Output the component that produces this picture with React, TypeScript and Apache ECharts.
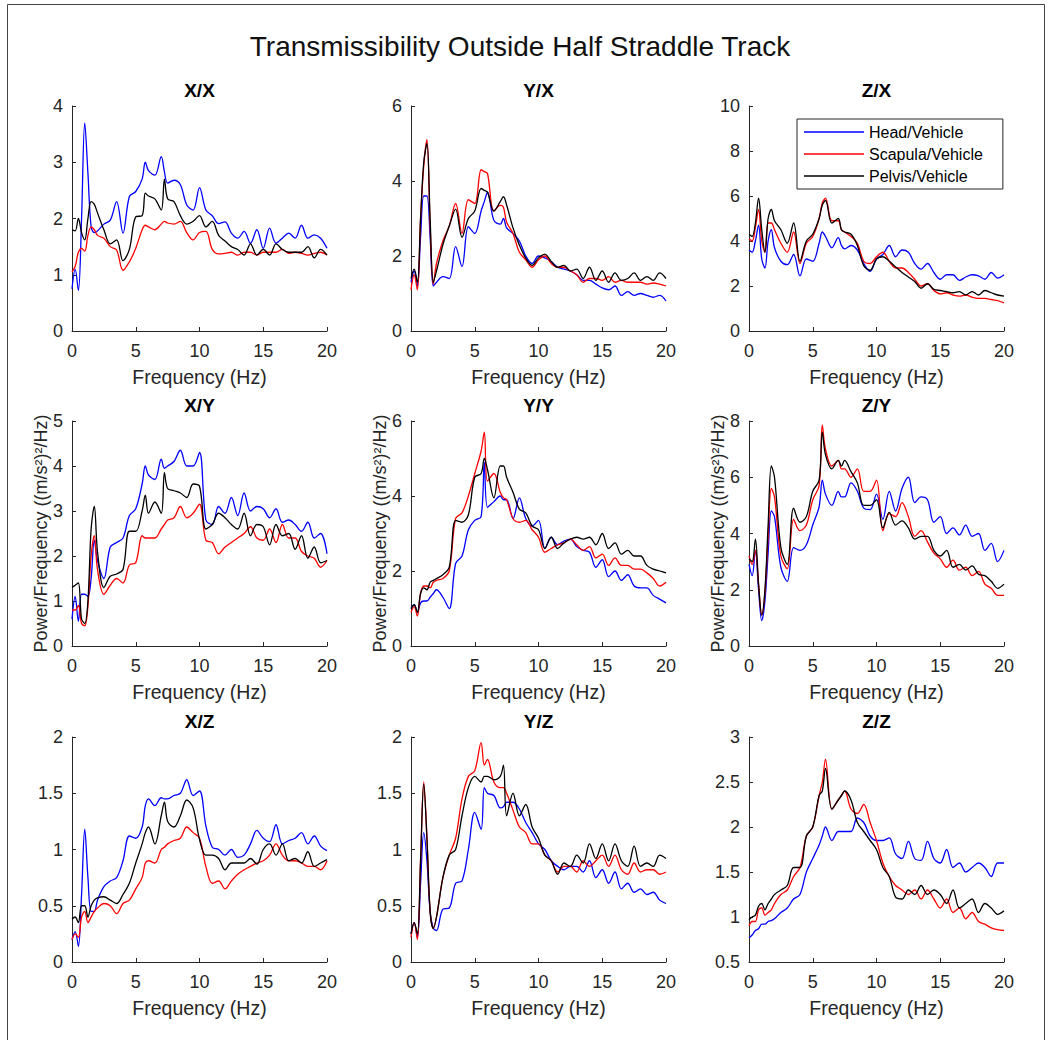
import React, { useEffect, useRef } from "react";
import * as echarts from "echarts";

const FREQ = [0, 0.25, 0.5, 0.75, 1, 1.25, 1.5, 1.75, 2, 2.5, 3, 3.5, 4, 4.5, 5, 5.5, 5.75, 6, 6.5, 7, 7.25, 7.5, 8, 8.5, 9, 9.5, 10, 10.5, 11, 11.5, 12, 12.5, 13, 13.5, 14, 14.5, 15, 15.5, 16, 16.5, 17, 17.5, 18, 18.5, 19, 19.5, 20];

const SERIES_NAMES = ["Head/Vehicle", "Scapula/Vehicle", "Pelvis/Vehicle"];
const SERIES_COLORS = ["#0000ff", "#ff0000", "#000000"];

const XX_HEAD = [0.75,1.1,0.72,2.0,3.7,2.8,1.85,1.75,1.78,1.9,1.97,2.3,1.74,2.39,2.48,2.7,3.0,2.85,2.77,3.1,2.83,2.63,2.68,2.6,2.24,2.15,2.55,2.15,2.05,1.91,1.94,1.74,1.65,1.77,1.56,1.8,1.47,1.83,1.56,1.65,1.74,1.65,1.88,1.65,1.71,1.65,1.47];
const XX_SCAP = [1.05,1.15,1.4,1.47,1.42,1.7,1.85,1.8,1.7,1.65,1.5,1.44,1.08,1.23,1.47,1.8,1.88,1.85,1.8,1.9,1.95,1.92,1.9,1.95,1.75,1.62,1.75,1.77,1.45,1.37,1.38,1.4,1.35,1.4,1.4,1.35,1.4,1.4,1.4,1.45,1.38,1.4,1.38,1.35,1.38,1.4,1.35];
const XX_PELV = [1.8,1.78,2.0,1.75,1.62,2.0,2.3,2.25,2.1,1.8,1.55,1.62,1.25,1.45,2.03,2.05,2.45,2.4,2.35,2.15,2.7,2.35,2.3,2.05,1.9,1.95,2.05,1.85,1.95,1.7,1.6,1.5,1.45,1.35,1.55,1.35,1.45,1.35,1.55,1.45,1.4,1.4,1.4,1.5,1.3,1.45,1.35];

const YX_HEAD = [1.3,1.6,1.2,2.5,3.6,3.6,2.5,1.2,1.3,1.45,1.4,2.25,1.72,2.78,2.6,3.2,3.45,3.7,2.95,2.85,3.0,2.75,2.6,2.4,2.0,1.8,2.0,1.95,1.85,1.7,1.65,1.6,1.5,1.35,1.35,1.25,1.15,1.1,1.2,0.95,1.05,0.95,1.0,0.95,0.9,0.95,0.8];
const YX_SCAP = [1.1,1.5,1.1,3.0,4.4,5.1,2.8,1.25,1.8,2.4,2.8,3.4,2.6,3.5,3.4,4.3,4.25,4.2,3.2,3.35,3.3,2.9,2.6,2.1,1.9,1.7,1.9,2.0,1.8,1.7,1.7,1.6,1.5,1.3,1.4,1.4,1.35,1.45,1.3,1.35,1.3,1.3,1.3,1.25,1.28,1.25,1.2];
const YX_PELV = [1.4,1.65,1.3,3.0,4.5,5.0,3.0,1.3,1.6,2.3,2.8,3.25,2.5,3.0,3.2,3.8,3.75,3.7,3.2,3.45,3.58,3.36,2.75,2.29,1.94,1.75,1.95,2.05,1.85,1.7,1.75,1.6,1.65,1.4,1.7,1.35,1.6,1.3,1.55,1.35,1.4,1.55,1.35,1.45,1.35,1.55,1.4];

const ZX_HEAD = [3.6,3.5,4.0,4.7,3.2,2.8,4.0,4.5,3.7,3.1,2.95,3.4,2.45,3.2,3.1,3.9,4.4,4.2,3.7,4.15,3.8,3.65,3.8,3.6,3.0,2.65,3.2,3.4,3.8,3.3,3.6,3.5,3.0,2.75,3.0,2.6,2.3,2.5,2.5,2.25,2.4,2.5,2.45,2.3,2.6,2.35,2.5];
const ZX_SCAP = [4.1,4.0,4.6,5.4,4.0,3.5,4.8,4.8,4.5,3.9,3.5,4.4,3.0,3.9,4.2,5.0,5.7,5.9,4.9,4.9,4.5,4.4,4.2,3.9,3.1,3.0,3.3,3.5,3.1,2.8,2.8,2.6,2.3,2.0,2.1,1.8,1.65,1.7,1.6,1.55,1.6,1.5,1.45,1.45,1.4,1.35,1.25];
const ZX_PELV = [4.3,4.2,4.8,5.9,4.5,3.5,5.0,5.4,4.9,4.5,3.9,4.8,3.1,4.0,4.3,5.0,5.6,5.8,4.8,5.0,4.5,4.4,4.3,3.8,2.9,2.7,3.2,3.3,3.1,2.85,2.6,2.4,2.2,1.9,2.1,1.85,1.8,1.75,1.7,1.75,1.6,1.75,1.6,1.8,1.7,1.6,1.55];

const XY_HEAD = [0.6,1.1,0.55,1.15,1.15,1.1,1.5,2.35,1.9,1.5,2.2,2.3,2.4,2.9,3.05,3.6,4.0,3.8,3.7,4.15,3.95,4.0,4.1,4.35,4.0,4.0,4.3,2.8,2.7,3.1,2.95,3.3,2.9,3.4,3.0,3.1,3.05,2.85,3.05,2.75,2.8,2.7,2.55,2.75,2.4,2.5,2.05];
const XY_SCAP = [0.8,0.8,0.9,0.5,0.45,0.9,2.0,2.45,1.7,1.15,1.35,1.5,1.4,1.8,1.85,2.45,2.4,2.4,2.4,2.6,2.7,2.8,2.85,3.1,2.85,2.95,3.15,2.35,2.3,2.05,2.2,2.3,2.4,2.5,2.65,2.4,2.35,2.6,2.3,2.7,2.4,2.4,2.1,2.0,1.95,1.75,1.9];
const XY_PELV = [1.3,1.35,1.4,0.6,0.5,1.0,2.6,3.1,2.1,1.3,1.55,1.6,1.7,2.55,2.55,3.0,3.35,2.95,3.2,2.95,3.85,3.5,3.45,3.4,3.3,3.6,3.55,2.6,2.7,2.95,2.85,2.7,2.6,2.95,2.45,2.7,2.65,2.25,2.7,2.45,2.5,2.15,2.45,1.95,2.2,1.85,1.9];

const YY_HEAD = [1.0,1.1,0.9,1.15,1.2,1.2,1.3,1.4,1.5,1.3,1.0,2.2,2.4,3.1,3.35,3.45,4.9,3.7,3.85,4.0,3.9,3.9,3.4,3.95,3.4,3.2,3.35,2.6,2.9,2.7,2.8,2.85,2.65,2.55,2.5,2.1,2.3,1.85,2.0,1.75,1.9,1.6,1.55,1.55,1.35,1.25,1.15];
const YY_SCAP = [0.9,1.05,0.8,1.4,1.6,1.6,1.55,1.7,1.75,1.8,2.0,3.4,3.55,4.0,4.6,5.2,5.7,4.4,4.6,4.1,3.95,3.9,3.4,3.3,3.35,3.1,2.9,2.5,2.6,2.7,2.75,2.85,2.7,2.55,2.65,2.35,2.45,2.15,2.35,2.15,2.15,2.05,2.05,1.95,1.8,1.6,1.7];
const YY_PELV = [1.0,1.1,0.9,1.4,1.55,1.5,1.7,1.75,1.8,1.9,2.1,3.35,3.3,3.5,4.5,4.6,5.0,4.7,3.95,4.8,4.8,4.5,4.1,3.65,3.55,3.2,3.1,2.6,2.9,2.6,2.75,2.85,2.9,2.85,2.9,2.7,3.0,2.6,2.75,2.45,2.55,2.4,2.4,2.15,2.05,2.0,1.95];

const ZY_HEAD = [2.9,2.5,3.4,2.0,0.9,1.6,3.3,4.8,4.6,2.8,2.3,3.5,3.4,3.6,4.3,4.95,5.9,5.4,5.0,5.5,5.3,5.3,5.8,5.5,4.9,4.85,5.4,4.5,5.5,4.8,5.6,6.0,5.1,5.3,5.2,4.4,4.6,4.0,4.2,3.95,4.3,3.9,4.0,3.4,3.65,3.0,3.4];
const ZY_SCAP = [3.2,2.9,3.4,2.2,1.1,1.9,3.9,5.6,5.3,3.2,2.75,4.5,4.1,4.3,5.2,5.7,7.85,7.0,6.4,6.6,6.3,6.3,6.0,6.3,5.5,5.5,5.9,4.1,4.7,4.6,5.1,4.6,3.9,4.1,3.7,3.3,3.1,2.8,3.05,2.7,2.8,2.5,2.65,2.2,2.05,1.8,1.8];
const ZY_PELV = [3.1,3.0,3.8,2.2,1.1,2.0,4.3,6.4,6.0,3.5,2.9,4.9,4.4,4.6,5.5,5.9,7.6,6.8,6.3,6.6,6.4,6.6,6.2,5.8,5.0,5.0,5.2,4.2,4.75,4.3,4.45,4.2,3.8,3.9,3.9,3.4,3.2,3.4,2.8,2.9,2.7,2.85,2.55,2.5,2.3,2.05,2.2];

const XZ_HEAD = [0.2,0.27,0.14,0.6,1.18,0.75,0.45,0.45,0.55,0.67,0.72,0.75,0.9,1.12,1.1,1.2,1.39,1.45,1.39,1.46,1.45,1.45,1.48,1.5,1.62,1.48,1.52,1.21,1.02,1.0,0.95,1.0,0.93,0.95,1.05,1.17,1.1,1.07,1.22,1.05,1.08,1.1,1.15,1.05,1.12,1.03,0.99];
const XZ_SCAP = [0.2,0.25,0.22,0.4,0.45,0.35,0.4,0.45,0.48,0.52,0.5,0.43,0.52,0.55,0.65,0.75,0.88,0.9,0.88,1.0,1.02,1.05,1.08,1.1,1.2,1.15,1.1,0.85,0.7,0.72,0.65,0.72,0.78,0.82,0.85,0.88,0.9,0.95,1.05,0.95,0.9,0.9,0.88,0.85,0.85,0.82,0.9];
const XZ_PELV = [0.38,0.4,0.35,0.5,0.5,0.4,0.5,0.55,0.57,0.58,0.55,0.52,0.6,0.7,0.88,1.05,1.15,1.2,1.05,1.3,1.42,1.25,1.2,1.3,1.44,1.37,1.09,0.95,0.95,0.92,0.82,0.88,0.88,0.88,0.92,0.87,1.0,1.05,0.95,1.05,0.9,0.92,0.88,0.98,0.85,0.88,0.91];

const YZ_HEAD = [0.25,0.35,0.22,0.7,1.15,0.9,0.45,0.3,0.28,0.47,0.48,0.7,0.72,1.0,1.33,1.18,1.55,1.5,1.48,1.37,1.38,1.42,1.42,1.36,1.24,1.15,1.05,1.0,0.9,0.85,0.82,0.85,0.85,0.8,0.9,0.75,0.82,0.7,0.8,0.65,0.7,0.62,0.65,0.6,0.62,0.55,0.52];
const YZ_SCAP = [0.22,0.35,0.2,0.9,1.6,1.1,0.45,0.3,0.4,0.75,0.95,1.1,1.45,1.65,1.7,1.95,1.75,1.8,1.6,1.55,1.55,1.5,1.35,1.2,1.15,1.05,1.05,0.95,0.9,0.8,0.85,0.85,0.8,0.9,0.85,0.9,0.95,0.85,0.95,0.82,0.78,0.88,0.8,0.82,0.82,0.78,0.8];
const YZ_PELV = [0.25,0.35,0.25,0.9,1.58,1.1,0.45,0.3,0.4,0.75,0.95,1.0,1.3,1.55,1.65,1.6,1.65,1.65,1.62,1.65,1.75,1.3,1.5,1.3,1.4,1.2,1.1,0.95,0.9,0.78,0.88,0.85,0.95,0.88,1.05,0.92,1.05,0.9,1.05,0.9,0.85,1.03,0.85,0.88,0.85,0.95,0.92];

const ZZ_HEAD = [0.77,0.8,0.85,0.87,0.92,0.92,0.95,0.96,0.98,1.05,1.1,1.2,1.25,1.5,1.65,1.8,1.9,2.0,1.85,1.95,1.95,1.95,1.95,2.1,2.05,1.9,1.85,1.85,1.88,1.7,1.65,1.84,1.65,1.63,1.84,1.65,1.6,1.75,1.55,1.6,1.5,1.55,1.6,1.55,1.45,1.6,1.6];
const ZZ_SCAP = [0.9,0.95,0.95,1.08,1.1,1.02,1.05,1.08,1.15,1.25,1.3,1.45,1.55,1.9,2.0,2.35,2.5,2.75,2.2,2.3,2.35,2.4,2.2,2.15,2.25,2.05,1.85,1.6,1.45,1.35,1.3,1.25,1.3,1.2,1.3,1.2,1.1,1.2,1.05,1.1,0.98,1.05,0.95,0.92,0.88,0.86,0.85];
const ZZ_PELV = [0.97,1.0,1.02,1.12,1.15,1.08,1.15,1.2,1.25,1.3,1.35,1.55,1.55,1.9,2.0,2.35,2.4,2.65,2.2,2.3,2.35,2.4,2.3,2.05,1.95,1.85,1.75,1.55,1.45,1.22,1.2,1.3,1.25,1.35,1.25,1.3,1.25,1.15,1.3,1.1,1.15,1.2,1.05,1.15,1.1,1.03,1.07];

const PANEL_TITLES = ["X/X", "Y/X", "Z/X", "X/Y", "Y/Y", "Z/Y", "X/Z", "Y/Z", "Z/Z"];
const Y_MIN = [0, 0, 0, 0, 0, 0, 0, 0, 0.5];
const Y_MAX = [4, 6, 10, 5, 6, 8, 2, 2, 3];
const Y_INTERVAL = [1, 2, 2, 1, 2, 2, 0.5, 0.5, 0.5];
const PANEL_DATA = [
  [XX_HEAD, XX_SCAP, XX_PELV],
  [YX_HEAD, YX_SCAP, YX_PELV],
  [ZX_HEAD, ZX_SCAP, ZX_PELV],
  [XY_HEAD, XY_SCAP, XY_PELV],
  [YY_HEAD, YY_SCAP, YY_PELV],
  [ZY_HEAD, ZY_SCAP, ZY_PELV],
  [XZ_HEAD, XZ_SCAP, XZ_PELV],
  [YZ_HEAD, YZ_SCAP, YZ_PELV],
  [ZZ_HEAD, ZZ_SCAP, ZZ_PELV],
];
const X_TICKS = { min: 0, max: 20, interval: 5 };
const MAIN_TITLE = "Transmissibility Outside Half Straddle Track";
const X_LABEL = "Frequency (Hz)";
const Y_LABEL = "Power/Frequency ((m/s²)²/Hz)";

const COL_LEFT = [72, 411, 749];
const ROW_TOP = [106, 421, 737];
const PW = 255;
const PH = 225;
const FONT = '"Liberation Sans", Arial, Helvetica, sans-serif';
const AXIS_COLOR = "#262626";

export default function App() {
  const ref = useRef<HTMLDivElement>(null);
  useEffect(() => {
    if (!ref.current) return;
    const chart = echarts.init(ref.current, null, { renderer: "svg" });
    const grids: any[] = [];
    const xAxes: any[] = [];
    const yAxes: any[] = [];
    const series: any[] = [];
    const graphics: any[] = [];

    graphics.push({
      type: "rect",
      silent: true,
      shape: { x: 7.5, y: 4.5, width: 1037, height: 1060 },
      style: { fill: "none", stroke: "#444", lineWidth: 1 },
      z: 0,
    });
    graphics.push({
      type: "text",
      x: 520,
      y: 46,
      style: {
        text: MAIN_TITLE,
        font: `28px ${FONT}`,
        fill: "#111",
        textAlign: "center",
        textVerticalAlign: "middle",
      },
    });

    PANEL_TITLES.forEach((title, i) => {
      const r = Math.floor(i / 3);
      const c = i % 3;
      grids.push({ left: COL_LEFT[c], top: ROW_TOP[r], width: PW, height: PH, containLabel: false });
      graphics.push({
        type: "text",
        x: COL_LEFT[c] + PW / 2,
        y: ROW_TOP[r] - 16,
        style: {
          text: title,
          font: `bold 19px ${FONT}`,
          fill: "#000",
          textAlign: "center",
          textVerticalAlign: "middle",
        },
      });
      xAxes.push({
        gridIndex: i,
        type: "value",
        min: X_TICKS.min,
        max: X_TICKS.max,
        interval: X_TICKS.interval,
        name: X_LABEL,
        nameLocation: "middle",
        nameGap: 36,
        nameMoveOverlap: false,
        nameTextStyle: { fontSize: 19.5, color: AXIS_COLOR, fontFamily: FONT },
        axisLine: { show: true, onZero: false, lineStyle: { color: AXIS_COLOR, width: 1 } },
        axisTick: { show: true, inside: true, length: 4, lineStyle: { color: AXIS_COLOR } },
        axisLabel: { fontSize: 18, color: AXIS_COLOR, margin: 11, fontFamily: FONT },
        splitLine: { show: false },
      });
      yAxes.push({
        gridIndex: i,
        type: "value",
        min: Y_MIN[i],
        max: Y_MAX[i],
        interval: Y_INTERVAL[i],
        name: r === 1 ? Y_LABEL : "",
        nameLocation: "middle",
        nameGap: 22,
        nameMoveOverlap: false,
        nameTextStyle: { fontSize: 18, color: AXIS_COLOR, fontFamily: FONT },
        axisLine: { show: true, onZero: false, lineStyle: { color: AXIS_COLOR, width: 1 } },
        axisTick: { show: true, inside: true, length: 4, lineStyle: { color: AXIS_COLOR } },
        axisLabel: { fontSize: 18, color: AXIS_COLOR, margin: 9, fontFamily: FONT },
        splitLine: { show: false },
      });
      PANEL_DATA[i].forEach((vals, k) => {
        series.push({
          type: "line",
          name: SERIES_NAMES[k],
          xAxisIndex: i,
          yAxisIndex: i,
          data: FREQ.map((f, j) => [f, vals[j]]),
          symbol: "none",
          showSymbol: false,
          smooth: 0.35,
          clip: true,
          lineStyle: { color: SERIES_COLORS[k], width: 1.3 },
          itemStyle: { color: SERIES_COLORS[k] },
          z: 2 + k,
        });
      });
    });

    chart.setOption({
      animation: false,
      backgroundColor: "#ffffff",
      textStyle: { fontFamily: FONT },
      grid: grids,
      xAxis: xAxes,
      yAxis: yAxes,
      series,
      graphic: graphics,
      legend: {
        data: SERIES_NAMES.map((name) => ({ name, icon: "rect" })),
        orient: "vertical",
        left: 797,
        top: 119,
        itemWidth: 60,
        itemHeight: 1.5,
        itemGap: 6,
        padding: [5, 20, 5, 7],
        borderColor: "#262626",
        borderWidth: 1,
        backgroundColor: "#ffffff",
        selectedMode: false,
        textStyle: { fontSize: 16, color: "#000", fontFamily: FONT, lineHeight: 16 },
      },
    });
    return () => chart.dispose();
  }, []);
  return (
    <div
      ref={ref}
      style={{ position: "absolute", left: 0, top: 0, width: 1052, height: 1040, background: "#fff" }}
    />
  );
}
